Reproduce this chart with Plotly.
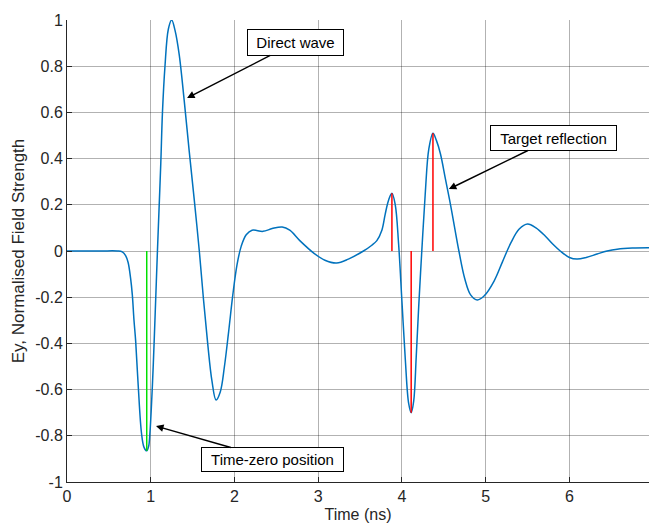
import plotly.graph_objects as go

# Waveform samples (time in ns, normalised Ey)
t_ns = [0, 0.40, 0.60, 0.66, 0.70, 0.73, 0.76, 0.78, 0.80, 0.82, 0.85, 0.89, 0.92, 0.952, 0.975,
        0.99, 1.02, 1.04, 1.06, 1.08, 1.10, 1.12, 1.14, 1.17, 1.21, 1.25, 1.29, 1.34, 1.40, 1.46,
        1.52, 1.58, 1.63, 1.68, 1.73, 1.78, 1.83, 1.88, 1.93, 1.98, 2.03, 2.08, 2.14, 2.21, 2.34,
        2.45, 2.57, 2.66, 2.78, 2.95, 3.08, 3.22, 3.36, 3.54, 3.64, 3.70, 3.76, 3.80, 3.84, 3.88,
        3.92, 3.96, 4.00, 4.04, 4.08, 4.11, 4.14, 4.17, 4.20, 4.24, 4.28, 4.32, 4.37, 4.41, 4.46,
        4.52, 4.58, 4.68, 4.75, 4.82, 4.90, 4.98, 5.10, 5.20, 5.30, 5.40, 5.50, 5.60, 5.71, 5.80,
        5.89, 6.00, 6.09, 6.20, 6.33, 6.45, 6.57, 6.75, 6.95]
ey = [0, 0, 0, -0.004, -0.02, -0.05, -0.12, -0.19, -0.30, -0.39, -0.58, -0.79, -0.85, -0.865, -0.845,
      -0.79, -0.58, -0.40, -0.20, 0.0, 0.19, 0.38, 0.60, 0.80, 0.96, 1.0, 0.955, 0.85, 0.65, 0.43,
      0.22, 0.0, -0.21, -0.40, -0.56, -0.645, -0.61, -0.50, -0.35, -0.19, -0.06, 0.02, 0.07, 0.09, 0.085,
      0.097, 0.104, 0.09, 0.045, -0.01, -0.04, -0.052, -0.035, 0.0, 0.025, 0.045, 0.09, 0.16, 0.22, 0.25,
      0.20, 0.03, -0.22, -0.47, -0.66, -0.70, -0.65, -0.46, -0.24, 0.02, 0.26, 0.44, 0.51, 0.48, 0.42,
      0.31, 0.20, 0.0, -0.12, -0.19, -0.212, -0.195, -0.13, -0.047, 0.035, 0.095, 0.117, 0.10, 0.065, 0.03,
      0.0, -0.028, -0.035, -0.028, -0.013, 0.0, 0.008, 0.013, 0.014]

# Target reflection picks (red) and time-zero pick (green)
pick_t = [3.88, 4.11, 4.37]
pick_v = [0.25, -0.70, 0.51]
t0_t = [0.952]
t0_v = [-0.865]

x_ticks = [0, 1, 2, 3, 4, 5, 6]
y_ticks = [-1, -0.8, -0.6, -0.4, -0.2, 0, 0.2, 0.4, 0.6, 0.8, 1]
y_labels = ["-1", "-0.8", "-0.6", "-0.4", "-0.2", "0", "0.2", "0.4", "0.6", "0.8", "1"]

FONT = "Liberation Sans, Arial, Helvetica, sans-serif"

def stems(xs, vs):
    sx, sy = [], []
    for x, v in zip(xs, vs):
        sx += [x, x, None]
        sy += [0, v, None]
    return sx, sy

fig = go.Figure()
fig.add_trace(go.Scatter(x=t_ns, y=ey, mode="lines",
                         line=dict(color="#0072BD", width=1.5, shape="spline", smoothing=1.0),
                         showlegend=False, hoverinfo="skip"))
rx, ry = stems(pick_t, pick_v)
fig.add_trace(go.Scatter(x=rx, y=ry, mode="lines", line=dict(color="#FF0000", width=1.5),
                         showlegend=False, hoverinfo="skip"))
gx, gy = stems(t0_t, t0_v)
fig.add_trace(go.Scatter(x=gx, y=gy, mode="lines", line=dict(color="#00E000", width=1.5),
                         showlegend=False, hoverinfo="skip"))

def note(text, hx, hy, tx, ty, w, h):
    fig.add_annotation(x=hx, y=hy, ax=tx, ay=ty, axref="x", ayref="y", xref="x", yref="y",
                       text=text, showarrow=True, arrowhead=2, arrowsize=1, arrowwidth=1.5,
                       arrowcolor="black", bgcolor="white", bordercolor="black", borderwidth=1,
                       borderpad=1, width=w, height=h, align="center",
                       font=dict(family=FONT, size=15, color="black"))

note("Direct wave", 1.434, 0.662, 2.73, 0.903, 93, 23)
note("Target reflection", 4.56, 0.268, 5.81, 0.489, 123, 22)
note("Time-zero position", 1.063, -0.758, 2.455, -0.903, 139, 21)

fig.update_layout(
    width=649, height=525,
    margin=dict(l=67, r=0, t=20, b=43),
    paper_bgcolor="white", plot_bgcolor="white",
    font=dict(family=FONT, size=16, color="#262626"),
    xaxis=dict(range=[0, 6.95], tickvals=x_ticks, ticktext=[str(v) for v in x_ticks],
               showgrid=True, gridcolor="rgba(0,0,0,0.3)", gridwidth=1, zeroline=False,
               showline=True, linecolor="#262626", linewidth=1, ticks="inside", ticklen=5,
               tickcolor="#262626", tickfont=dict(size=16),
               title=dict(text="Time (ns)", font=dict(size=16), standoff=4)),
    yaxis=dict(range=[-1, 1], tickvals=y_ticks, ticktext=y_labels,
               showgrid=True, gridcolor="rgba(0,0,0,0.3)", gridwidth=1, zeroline=False,
               showline=True, linecolor="#262626", linewidth=1, ticks="inside", ticklen=5,
               tickcolor="#262626", tickfont=dict(size=16),
               title=dict(text="Ey, Normalised Field Strength", font=dict(size=17), standoff=6)),
)

fig.write_html("out.html")
